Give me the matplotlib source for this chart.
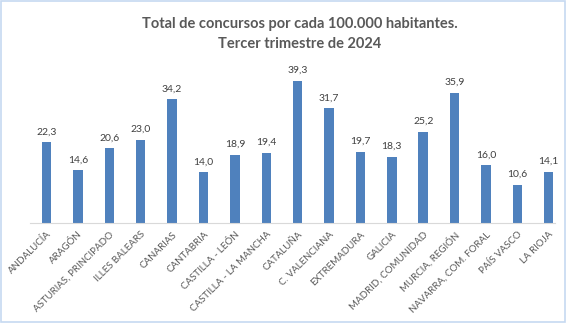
import matplotlib
matplotlib.use('Agg')
import matplotlib.pyplot as plt
from matplotlib.patches import Rectangle

regiones = ['ANDALUCÍA', 'ARAGÓN', 'ASTURIAS, PRINCIPADO', 'ILLES BALEARS', 'CANARIAS',
            'CANTABRIA', 'CASTILLA - LEÓN', 'CASTILLA - LA MANCHA', 'CATALUÑA',
            'C. VALENCIANA', 'EXTREMADURA', 'GALICIA', 'MADRID, COMUNIDAD',
            'MURCIA, REGIÓN', 'NAVARRA, COM. FORAL', 'PAÍS VASCO', 'LA RIOJA']
valores = [22.3, 14.6, 20.6, 23.0, 34.2, 14.0, 18.9, 19.4, 39.3,
           31.7, 19.7, 18.3, 25.2, 35.9, 16.0, 10.6, 14.1]

W, H = 566, 323
fig = plt.figure(figsize=(W / 100, H / 100), dpi=100)
plt.rcParams['font.family'] = ['Lato', 'DejaVu Sans']

# plot area: x 30..555 px, y 60..223 px (top-origin)
ax = fig.add_axes([30 / W, 1 - 223 / H, 525 / W, 163 / H])
x = list(range(len(regiones)))
ax.bar(x, valores, width=0.3, color='#4F81BD')
ax.set_xlim(-0.53, 16.2)
ax.set_ylim(0, 45)

for xi, v in zip(x, valores):
    ax.text(xi, v + 1.6, f'{v:.1f}'.replace('.', ','), ha='center', va='bottom',
            fontsize=7.5, color='#404040')

ax.set_xticks(x)
ax.set_xticklabels(regiones, rotation=45, ha='right', rotation_mode='anchor',
                   fontsize=7, color='#595959')
ax.tick_params(axis='x', length=0, pad=5)
ax.set_yticks([])
for s in ['top', 'right', 'left']:
    ax.spines[s].set_visible(False)
ax.spines['bottom'].set_color('#D9D9D9')

fig.text(300 / W, 1 - 24 / H, 'Total de concursos por cada 100.000 habitantes.',
         ha='center', va='center', fontsize=10.5, fontweight='bold', color='#595959')
fig.text(300 / W, 1 - 44 / H, 'Tercer trimestre de 2024',
         ha='center', va='center', fontsize=10.5, fontweight='bold', color='#595959')

fig.patches.append(Rectangle((0.001, 0.002), 0.997, 0.995, transform=fig.transFigure,
                             fill=False, edgecolor='#C6D9F1', linewidth=1.2))

fig.savefig('out.png', dpi=100)
